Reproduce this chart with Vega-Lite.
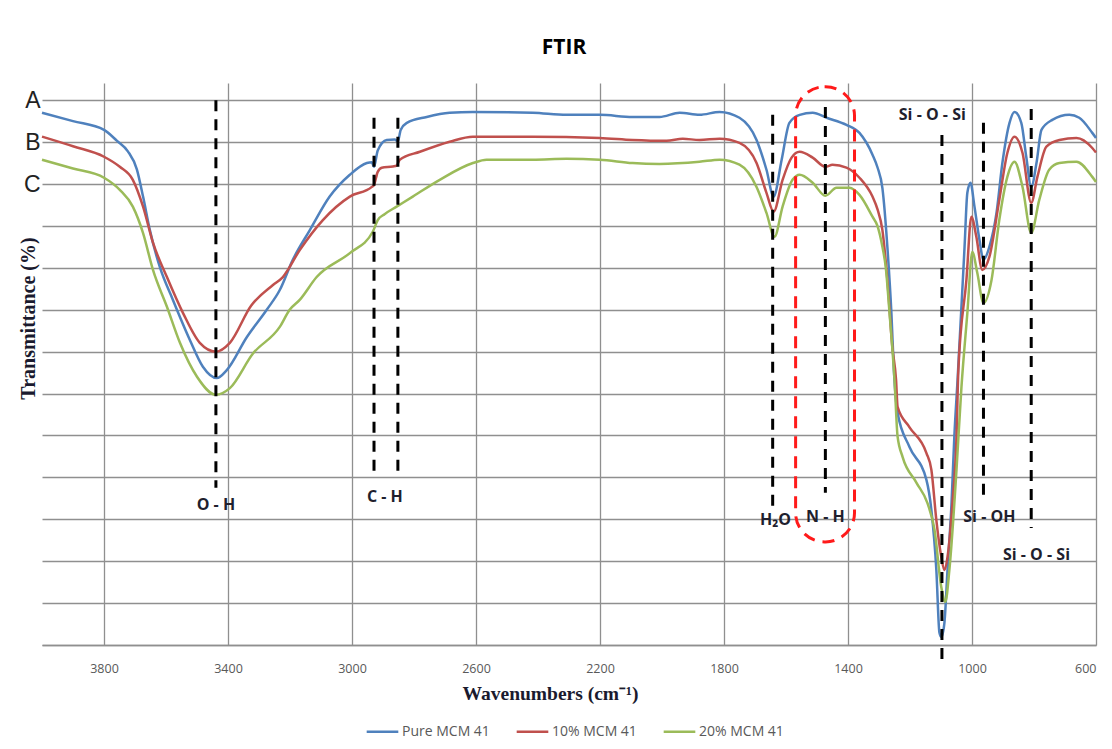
{
  "$schema": "https://vega.github.io/schema/vega-lite/v6.json",
  "autosize": "none",
  "width": 1054,
  "height": 562,
  "padding": {"left": 42, "top": 83, "right": 16, "bottom": 104},
  "background": "white",
  "title": {"text": "FTIR", "font": "Open Sans", "fontSize": 21, "fontWeight": "bold", "color": "#000000", "anchor": "middle", "offset": 25, "dx": -5},
  "config": {
    "view": {"stroke": null},
    "axis": {"gridColor": "#8f8f8f", "gridWidth": 1.3, "gridOpacity": 1}
  },
  "datasets": {
    "spectra": [
      {"s": "Pure MCM 41", "w": 4000, "t": 127.0},
      {"s": "Pure MCM 41", "w": 3900, "t": 125.0},
      {"s": "Pure MCM 41", "w": 3800, "t": 122.9},
      {"s": "Pure MCM 41", "w": 3758, "t": 120.3},
      {"s": "Pure MCM 41", "w": 3723, "t": 117.8},
      {"s": "Pure MCM 41", "w": 3694, "t": 113.5},
      {"s": "Pure MCM 41", "w": 3674, "t": 107.0},
      {"s": "Pure MCM 41", "w": 3652, "t": 99.0},
      {"s": "Pure MCM 41", "w": 3620, "t": 90.2},
      {"s": "Pure MCM 41", "w": 3578, "t": 82.4},
      {"s": "Pure MCM 41", "w": 3523, "t": 72.8},
      {"s": "Pure MCM 41", "w": 3481, "t": 66.4},
      {"s": "Pure MCM 41", "w": 3436, "t": 63.7},
      {"s": "Pure MCM 41", "w": 3404, "t": 65.6},
      {"s": "Pure MCM 41", "w": 3339, "t": 73.5},
      {"s": "Pure MCM 41", "w": 3275, "t": 80.0},
      {"s": "Pure MCM 41", "w": 3233, "t": 84.7},
      {"s": "Pure MCM 41", "w": 3191, "t": 91.9},
      {"s": "Pure MCM 41", "w": 3136, "t": 99.0},
      {"s": "Pure MCM 41", "w": 3072, "t": 107.0},
      {"s": "Pure MCM 41", "w": 3007, "t": 112.2},
      {"s": "Pure MCM 41", "w": 2952, "t": 115.0},
      {"s": "Pure MCM 41", "w": 2936, "t": 115.2},
      {"s": "Pure MCM 41", "w": 2929, "t": 114.1},
      {"s": "Pure MCM 41", "w": 2917, "t": 118.0},
      {"s": "Pure MCM 41", "w": 2888, "t": 120.5},
      {"s": "Pure MCM 41", "w": 2862, "t": 120.6},
      {"s": "Pure MCM 41", "w": 2852, "t": 120.2},
      {"s": "Pure MCM 41", "w": 2843, "t": 122.9},
      {"s": "Pure MCM 41", "w": 2823, "t": 124.6},
      {"s": "Pure MCM 41", "w": 2759, "t": 126.0},
      {"s": "Pure MCM 41", "w": 2685, "t": 127.0},
      {"s": "Pure MCM 41", "w": 2610, "t": 127.2},
      {"s": "Pure MCM 41", "w": 2417, "t": 127.0},
      {"s": "Pure MCM 41", "w": 2308, "t": 126.5},
      {"s": "Pure MCM 41", "w": 2201, "t": 126.5},
      {"s": "Pure MCM 41", "w": 2095, "t": 126.0},
      {"s": "Pure MCM 41", "w": 2008, "t": 126.0},
      {"s": "Pure MCM 41", "w": 1943, "t": 127.0},
      {"s": "Pure MCM 41", "w": 1879, "t": 126.5},
      {"s": "Pure MCM 41", "w": 1814, "t": 127.2},
      {"s": "Pure MCM 41", "w": 1750, "t": 125.8},
      {"s": "Pure MCM 41", "w": 1695, "t": 120.5},
      {"s": "Pure MCM 41", "w": 1663, "t": 113.4},
      {"s": "Pure MCM 41", "w": 1640, "t": 107.0},
      {"s": "Pure MCM 41", "w": 1614, "t": 115.8},
      {"s": "Pure MCM 41", "w": 1589, "t": 124.6},
      {"s": "Pure MCM 41", "w": 1556, "t": 126.5},
      {"s": "Pure MCM 41", "w": 1514, "t": 127.0},
      {"s": "Pure MCM 41", "w": 1469, "t": 125.8},
      {"s": "Pure MCM 41", "w": 1405, "t": 124.1},
      {"s": "Pure MCM 41", "w": 1363, "t": 122.2},
      {"s": "Pure MCM 41", "w": 1321, "t": 117.0},
      {"s": "Pure MCM 41", "w": 1305, "t": 114.0},
      {"s": "Pure MCM 41", "w": 1289, "t": 109.0},
      {"s": "Pure MCM 41", "w": 1273, "t": 95.0},
      {"s": "Pure MCM 41", "w": 1260, "t": 79.2},
      {"s": "Pure MCM 41", "w": 1252, "t": 65.6},
      {"s": "Pure MCM 41", "w": 1240, "t": 55.4},
      {"s": "Pure MCM 41", "w": 1202, "t": 47.3},
      {"s": "Pure MCM 41", "w": 1147, "t": 39.4},
      {"s": "Pure MCM 41", "w": 1131, "t": 32.2},
      {"s": "Pure MCM 41", "w": 1115, "t": 17.9},
      {"s": "Pure MCM 41", "w": 1105, "t": 2.9},
      {"s": "Pure MCM 41", "w": 1099, "t": 1.9},
      {"s": "Pure MCM 41", "w": 1089, "t": 5.3},
      {"s": "Pure MCM 41", "w": 1079, "t": 17.9},
      {"s": "Pure MCM 41", "w": 1066, "t": 33.9},
      {"s": "Pure MCM 41", "w": 1057, "t": 49.7},
      {"s": "Pure MCM 41", "w": 1046, "t": 64.0},
      {"s": "Pure MCM 41", "w": 1024, "t": 95.0},
      {"s": "Pure MCM 41", "w": 1015, "t": 107.9},
      {"s": "Pure MCM 41", "w": 1005, "t": 110.3},
      {"s": "Pure MCM 41", "w": 992, "t": 104.6},
      {"s": "Pure MCM 41", "w": 976, "t": 96.7},
      {"s": "Pure MCM 41", "w": 963, "t": 91.9},
      {"s": "Pure MCM 41", "w": 944, "t": 95.0},
      {"s": "Pure MCM 41", "w": 921, "t": 103.1},
      {"s": "Pure MCM 41", "w": 902, "t": 115.0},
      {"s": "Pure MCM 41", "w": 879, "t": 124.6},
      {"s": "Pure MCM 41", "w": 863, "t": 127.2},
      {"s": "Pure MCM 41", "w": 841, "t": 124.6},
      {"s": "Pure MCM 41", "w": 825, "t": 116.5},
      {"s": "Pure MCM 41", "w": 809, "t": 109.3},
      {"s": "Pure MCM 41", "w": 792, "t": 115.0},
      {"s": "Pure MCM 41", "w": 776, "t": 122.9},
      {"s": "Pure MCM 41", "w": 741, "t": 125.3},
      {"s": "Pure MCM 41", "w": 686, "t": 126.5},
      {"s": "Pure MCM 41", "w": 654, "t": 125.8},
      {"s": "Pure MCM 41", "w": 612, "t": 122.2},
      {"s": "Pure MCM 41", "w": 600, "t": 121.0},

      {"s": "10% MCM 41", "w": 4000, "t": 121.3},
      {"s": "10% MCM 41", "w": 3900, "t": 119.0},
      {"s": "10% MCM 41", "w": 3800, "t": 116.5},
      {"s": "10% MCM 41", "w": 3749, "t": 114.1},
      {"s": "10% MCM 41", "w": 3707, "t": 111.0},
      {"s": "10% MCM 41", "w": 3674, "t": 104.6},
      {"s": "10% MCM 41", "w": 3642, "t": 96.0},
      {"s": "10% MCM 41", "w": 3597, "t": 87.8},
      {"s": "10% MCM 41", "w": 3545, "t": 79.2},
      {"s": "10% MCM 41", "w": 3491, "t": 72.1},
      {"s": "10% MCM 41", "w": 3439, "t": 70.0},
      {"s": "10% MCM 41", "w": 3394, "t": 72.1},
      {"s": "10% MCM 41", "w": 3325, "t": 81.0},
      {"s": "10% MCM 41", "w": 3255, "t": 85.9},
      {"s": "10% MCM 41", "w": 3223, "t": 87.8},
      {"s": "10% MCM 41", "w": 3168, "t": 94.3},
      {"s": "10% MCM 41", "w": 3094, "t": 101.4},
      {"s": "10% MCM 41", "w": 3007, "t": 107.0},
      {"s": "10% MCM 41", "w": 2936, "t": 109.3},
      {"s": "10% MCM 41", "w": 2929, "t": 109.8},
      {"s": "10% MCM 41", "w": 2917, "t": 112.9},
      {"s": "10% MCM 41", "w": 2904, "t": 113.9},
      {"s": "10% MCM 41", "w": 2868, "t": 114.2},
      {"s": "10% MCM 41", "w": 2856, "t": 114.4},
      {"s": "10% MCM 41", "w": 2846, "t": 115.8},
      {"s": "10% MCM 41", "w": 2781, "t": 117.7},
      {"s": "10% MCM 41", "w": 2685, "t": 120.1},
      {"s": "10% MCM 41", "w": 2610, "t": 121.3},
      {"s": "10% MCM 41", "w": 2417, "t": 121.3},
      {"s": "10% MCM 41", "w": 2201, "t": 121.0},
      {"s": "10% MCM 41", "w": 2095, "t": 120.5},
      {"s": "10% MCM 41", "w": 1985, "t": 120.3},
      {"s": "10% MCM 41", "w": 1933, "t": 120.8},
      {"s": "10% MCM 41", "w": 1879, "t": 120.5},
      {"s": "10% MCM 41", "w": 1814, "t": 120.8},
      {"s": "10% MCM 41", "w": 1750, "t": 119.8},
      {"s": "10% MCM 41", "w": 1695, "t": 115.0},
      {"s": "10% MCM 41", "w": 1663, "t": 107.9},
      {"s": "10% MCM 41", "w": 1640, "t": 103.4},
      {"s": "10% MCM 41", "w": 1611, "t": 111.0},
      {"s": "10% MCM 41", "w": 1582, "t": 116.3},
      {"s": "10% MCM 41", "w": 1556, "t": 117.7},
      {"s": "10% MCM 41", "w": 1514, "t": 116.3},
      {"s": "10% MCM 41", "w": 1473, "t": 114.1},
      {"s": "10% MCM 41", "w": 1450, "t": 114.6},
      {"s": "10% MCM 41", "w": 1405, "t": 113.9},
      {"s": "10% MCM 41", "w": 1363, "t": 111.5},
      {"s": "10% MCM 41", "w": 1321, "t": 107.0},
      {"s": "10% MCM 41", "w": 1305, "t": 104.0},
      {"s": "10% MCM 41", "w": 1289, "t": 99.0},
      {"s": "10% MCM 41", "w": 1273, "t": 87.1},
      {"s": "10% MCM 41", "w": 1257, "t": 71.1},
      {"s": "10% MCM 41", "w": 1245, "t": 63.3},
      {"s": "10% MCM 41", "w": 1240, "t": 56.8},
      {"s": "10% MCM 41", "w": 1202, "t": 52.0},
      {"s": "10% MCM 41", "w": 1147, "t": 45.8},
      {"s": "10% MCM 41", "w": 1131, "t": 41.8},
      {"s": "10% MCM 41", "w": 1115, "t": 29.8},
      {"s": "10% MCM 41", "w": 1099, "t": 21.0},
      {"s": "10% MCM 41", "w": 1089, "t": 17.9},
      {"s": "10% MCM 41", "w": 1079, "t": 21.0},
      {"s": "10% MCM 41", "w": 1063, "t": 33.9},
      {"s": "10% MCM 41", "w": 1050, "t": 49.7},
      {"s": "10% MCM 41", "w": 1044, "t": 65.6},
      {"s": "10% MCM 41", "w": 1018, "t": 87.1},
      {"s": "10% MCM 41", "w": 1002, "t": 102.2},
      {"s": "10% MCM 41", "w": 986, "t": 97.4},
      {"s": "10% MCM 41", "w": 967, "t": 89.5},
      {"s": "10% MCM 41", "w": 944, "t": 92.6},
      {"s": "10% MCM 41", "w": 912, "t": 106.2},
      {"s": "10% MCM 41", "w": 886, "t": 117.4},
      {"s": "10% MCM 41", "w": 863, "t": 121.3},
      {"s": "10% MCM 41", "w": 837, "t": 117.4},
      {"s": "10% MCM 41", "w": 809, "t": 105.5},
      {"s": "10% MCM 41", "w": 789, "t": 111.7},
      {"s": "10% MCM 41", "w": 760, "t": 118.9},
      {"s": "10% MCM 41", "w": 718, "t": 120.5},
      {"s": "10% MCM 41", "w": 663, "t": 121.0},
      {"s": "10% MCM 41", "w": 612, "t": 118.6},
      {"s": "10% MCM 41", "w": 600, "t": 117.5},

      {"s": "20%  MCM 41", "w": 4000, "t": 115.8},
      {"s": "20%  MCM 41", "w": 3900, "t": 113.7},
      {"s": "20%  MCM 41", "w": 3800, "t": 111.5},
      {"s": "20%  MCM 41", "w": 3749, "t": 108.6},
      {"s": "20%  MCM 41", "w": 3707, "t": 104.6},
      {"s": "20%  MCM 41", "w": 3674, "t": 98.3},
      {"s": "20%  MCM 41", "w": 3642, "t": 89.5},
      {"s": "20%  MCM 41", "w": 3597, "t": 80.7},
      {"s": "20%  MCM 41", "w": 3555, "t": 72.1},
      {"s": "20%  MCM 41", "w": 3500, "t": 64.0},
      {"s": "20%  MCM 41", "w": 3439, "t": 59.7},
      {"s": "20%  MCM 41", "w": 3394, "t": 61.3},
      {"s": "20%  MCM 41", "w": 3320, "t": 69.5},
      {"s": "20%  MCM 41", "w": 3233, "t": 75.9},
      {"s": "20%  MCM 41", "w": 3201, "t": 80.0},
      {"s": "20%  MCM 41", "w": 3168, "t": 82.4},
      {"s": "20%  MCM 41", "w": 3114, "t": 87.8},
      {"s": "20%  MCM 41", "w": 3007, "t": 93.5},
      {"s": "20%  MCM 41", "w": 2933, "t": 98.6},
      {"s": "20%  MCM 41", "w": 2917, "t": 101.4},
      {"s": "20%  MCM 41", "w": 2895, "t": 102.8},
      {"s": "20%  MCM 41", "w": 2856, "t": 104.6},
      {"s": "20%  MCM 41", "w": 2804, "t": 107.0},
      {"s": "20%  MCM 41", "w": 2717, "t": 111.0},
      {"s": "20%  MCM 41", "w": 2610, "t": 115.0},
      {"s": "20%  MCM 41", "w": 2566, "t": 115.8},
      {"s": "20%  MCM 41", "w": 2417, "t": 115.8},
      {"s": "20%  MCM 41", "w": 2308, "t": 116.0},
      {"s": "20%  MCM 41", "w": 2201, "t": 115.8},
      {"s": "20%  MCM 41", "w": 2095, "t": 115.0},
      {"s": "20%  MCM 41", "w": 2008, "t": 114.8},
      {"s": "20%  MCM 41", "w": 1879, "t": 115.3},
      {"s": "20%  MCM 41", "w": 1814, "t": 115.8},
      {"s": "20%  MCM 41", "w": 1750, "t": 114.6},
      {"s": "20%  MCM 41", "w": 1695, "t": 109.3},
      {"s": "20%  MCM 41", "w": 1663, "t": 103.1},
      {"s": "20%  MCM 41", "w": 1637, "t": 97.4},
      {"s": "20%  MCM 41", "w": 1611, "t": 104.6},
      {"s": "20%  MCM 41", "w": 1579, "t": 111.0},
      {"s": "20%  MCM 41", "w": 1556, "t": 112.2},
      {"s": "20%  MCM 41", "w": 1514, "t": 110.3},
      {"s": "20%  MCM 41", "w": 1473, "t": 107.2},
      {"s": "20%  MCM 41", "w": 1437, "t": 109.1},
      {"s": "20%  MCM 41", "w": 1395, "t": 109.1},
      {"s": "20%  MCM 41", "w": 1363, "t": 107.4},
      {"s": "20%  MCM 41", "w": 1321, "t": 102.2},
      {"s": "20%  MCM 41", "w": 1305, "t": 100.0},
      {"s": "20%  MCM 41", "w": 1289, "t": 95.0},
      {"s": "20%  MCM 41", "w": 1278, "t": 90.0},
      {"s": "20%  MCM 41", "w": 1266, "t": 79.2},
      {"s": "20%  MCM 41", "w": 1250, "t": 63.3},
      {"s": "20%  MCM 41", "w": 1240, "t": 49.7},
      {"s": "20%  MCM 41", "w": 1224, "t": 44.9},
      {"s": "20%  MCM 41", "w": 1179, "t": 38.7},
      {"s": "20%  MCM 41", "w": 1144, "t": 33.9},
      {"s": "20%  MCM 41", "w": 1121, "t": 27.5},
      {"s": "20%  MCM 41", "w": 1099, "t": 13.8},
      {"s": "20%  MCM 41", "w": 1086, "t": 10.3},
      {"s": "20%  MCM 41", "w": 1073, "t": 17.9},
      {"s": "20%  MCM 41", "w": 1050, "t": 41.8},
      {"s": "20%  MCM 41", "w": 1034, "t": 61.6},
      {"s": "20%  MCM 41", "w": 1015, "t": 79.2},
      {"s": "20%  MCM 41", "w": 999, "t": 93.8},
      {"s": "20%  MCM 41", "w": 983, "t": 88.8},
      {"s": "20%  MCM 41", "w": 963, "t": 81.6},
      {"s": "20%  MCM 41", "w": 937, "t": 87.1},
      {"s": "20%  MCM 41", "w": 912, "t": 101.4},
      {"s": "20%  MCM 41", "w": 886, "t": 111.7},
      {"s": "20%  MCM 41", "w": 863, "t": 115.3},
      {"s": "20%  MCM 41", "w": 837, "t": 109.3},
      {"s": "20%  MCM 41", "w": 809, "t": 98.3},
      {"s": "20%  MCM 41", "w": 783, "t": 106.2},
      {"s": "20%  MCM 41", "w": 751, "t": 113.4},
      {"s": "20%  MCM 41", "w": 718, "t": 115.0},
      {"s": "20%  MCM 41", "w": 663, "t": 115.3},
      {"s": "20%  MCM 41", "w": 612, "t": 111.7},
      {"s": "20%  MCM 41", "w": 600, "t": 110.5}
    ],
    "rules": [
      {"w": 3439, "y1": 130.0, "y2": 37.5},
      {"w": 2929, "y1": 125.8, "y2": 40.6},
      {"w": 2852, "y1": 125.8, "y2": 40.6},
      {"w": 1643, "y1": 126.5, "y2": 32.9},
      {"w": 1473, "y1": 128.4, "y2": 36.3},
      {"w": 1097, "y1": 121.7, "y2": -5.0},
      {"w": 963, "y1": 124.6, "y2": 35.3},
      {"w": 809, "y1": 127.9, "y2": 27.9}
    ],
    "ellipse": [
      {"w1": 1569, "w2": 1379, "y1": 133.2, "y2": 24.6}
    ],
    "labels": [
      {"w": 3439, "v": 33.4, "txt": "O - H"},
      {"w": 2894, "v": 35.3, "txt": "C - H"},
      {"w": 1634, "v": 29.8, "txt": "H₂O"},
      {"w": 1473, "v": 30.6, "txt": "N - H"},
      {"w": 1128, "v": 126.5, "txt": "Si - O - Si"},
      {"w": 944, "v": 30.6, "txt": "Si - OH"},
      {"w": 792, "v": 21.5, "txt": "Si - O - Si"}
    ]
  },
  "layer": [
    {
      "data": {"name": "spectra"},
      "mark": {"type": "line", "strokeWidth": 2.5, "interpolate": "monotone"},
      "encoding": {
        "x": {
          "field": "w", "type": "quantitative",
          "scale": {"domain": [600, 4000], "reverse": true, "nice": false, "zero": false},
          "axis": {
            "values": [3800, 3400, 3000, 2600, 2200, 1800, 1400, 1000, 600],
            "format": "d",
            "grid": true, "ticks": false, "labelPadding": 17,
            "labelFont": "Open Sans", "labelFontSize": 12.5, "labelColor": "#595959",
            "domainColor": "#8f8f8f", "domainWidth": 1.5,
            "title": "Wavenumbers (cm⁻¹)", "titleFont": "Liberation Serif", "titleFontSize": 19.5,
            "titleFontWeight": "bold", "titleColor": "#1a1a2e", "titleY": 48, "titleBaseline": "middle", "titleX": 508
          }
        },
        "y": {
          "field": "t", "type": "quantitative",
          "scale": {"domain": [0, 134.1], "nice": false, "zero": false},
          "axis": {
            "values": [0, 10, 20, 30, 40, 50, 60, 70, 80, 90, 100, 110, 120, 130],
            "grid": true, "ticks": false, "domain": false, "labelPadding": 2,
            "labelExpr": "datum.value == 130 ? 'A' : datum.value == 120 ? 'B' : datum.value == 110 ? 'C' : ''",
            "labelFont": "Liberation Sans", "labelFontSize": 23, "labelColor": "#222222", "labelBaseline": "middle",
            "title": "Transmittance (%)", "titleFont": "Liberation Serif", "titleFontSize": 20,
            "titleFontWeight": "bold", "titleColor": "#1a1a2e", "titleX": -14, "titleY": 235,
            "titleAngle": -90, "titleBaseline": "middle", "titleAlign": "center"
          }
        },
        "color": {
          "field": "s", "type": "nominal",
          "scale": {"domain": ["Pure MCM 41", "10% MCM 41", "20%  MCM 41"], "range": ["#4F81BD", "#C0504D", "#9BBB59"]},
          "legend": {
            "title": null, "orient": "none", "direction": "horizontal", "legendX": 323, "legendY": 631,
            "symbolType": "stroke", "symbolSize": 1000, "symbolStrokeWidth": 2.5,
            "labelFont": "Open Sans", "labelFontSize": 14, "labelColor": "#595959", "labelOffset": 2,
            "columnPadding": 21
          }
        }
      }
    },
    {
      "data": {"name": "rules"},
      "mark": {"type": "rule", "color": "#000000", "strokeWidth": 3, "strokeDash": [11, 8]},
      "encoding": {
        "x": {"field": "w", "type": "quantitative"},
        "y": {"field": "y1", "type": "quantitative"},
        "y2": {"field": "y2"}
      }
    },
    {
      "data": {"name": "ellipse"},
      "mark": {"type": "rect", "fill": null, "fillOpacity": 0, "stroke": "#ff1a1a", "strokeWidth": 3, "strokeDash": [12, 8], "cornerRadius": 29},
      "encoding": {
        "x": {"field": "w1", "type": "quantitative"},
        "x2": {"field": "w2"},
        "y": {"field": "y1", "type": "quantitative"},
        "y2": {"field": "y2"}
      }
    },
    {
      "data": {"name": "labels"},
      "mark": {"type": "text", "font": "Open Sans", "fontSize": 16, "fontWeight": "bold", "color": "#1f1f2e", "align": "center", "baseline": "middle"},
      "encoding": {
        "x": {"field": "w", "type": "quantitative"},
        "y": {"field": "v", "type": "quantitative"},
        "text": {"field": "txt"}
      }
    }
  ]
}
